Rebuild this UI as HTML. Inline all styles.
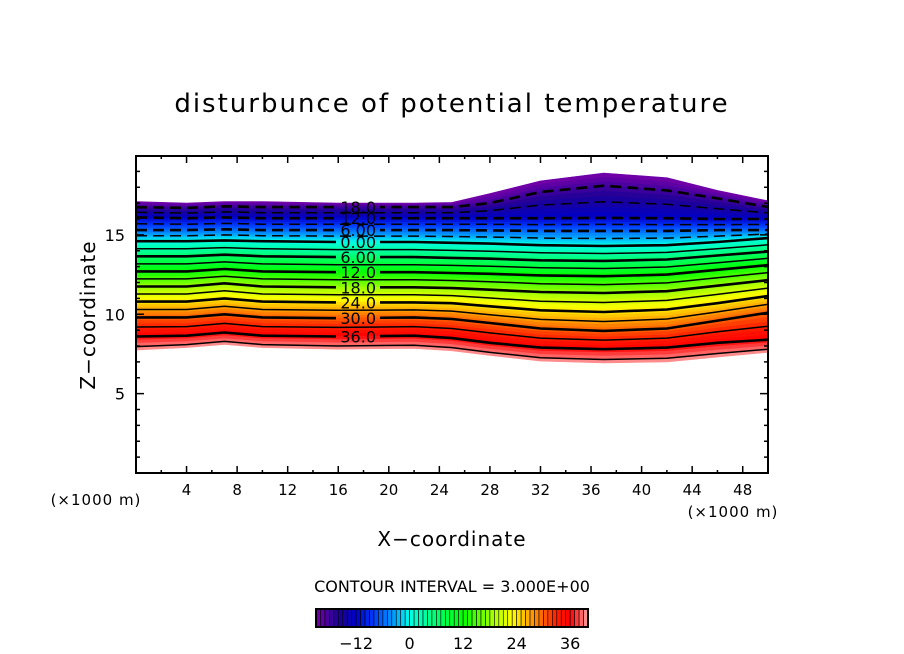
<!DOCTYPE html>
<html><head><meta charset="utf-8"><style>
html,body{margin:0;padding:0;background:#fff;}
svg{display:block;font-family:"DejaVu Sans","Liberation Sans",sans-serif;}
</style></head><body>
<svg id="chart" width="904" height="654" viewBox="0 0 904 654" xmlns="http://www.w3.org/2000/svg">
<defs>
<mask id="labmask" maskUnits="userSpaceOnUse" x="0" y="0" width="904" height="654">
<rect x="0" y="0" width="904" height="654" fill="#fff"/>
<rect x="336" y="195" width="44" height="150" fill="#000"/>
</mask>
</defs>
<text x="452" y="112" font-size="26" text-anchor="middle" letter-spacing="2">disturbunce of potential temperature</text>
<g id="field"></g>
<g id="axes"></g>
<text transform="translate(95,315) rotate(-90)" font-size="20" text-anchor="middle" letter-spacing="1">Z−coordinate</text>
<text x="452" y="546" font-size="20" text-anchor="middle" letter-spacing="1">X−coordinate</text>
<text x="96" y="505" font-size="15" text-anchor="middle" letter-spacing="1">(×1000 m)</text>
<text x="733" y="517" font-size="15" text-anchor="middle" letter-spacing="1">(×1000 m)</text>
<text x="452" y="592" font-size="16" text-anchor="middle">CONTOUR INTERVAL = 3.000E+00</text>
<g id="cbar"></g>
</svg>
<script>
const xs = [0, 4, 7, 10, 16, 22, 25, 28, 32, 37, 42, 46, 50];
const levelValues = [-21, -18, -12, -6, 0, 6, 12, 18, 24, 30, 36, 40];
const hTop = [17.1,17.0,17.1,17.1,17.0,17.0,17.05,17.6,18.4,18.9,18.6,17.8,17.15];
const hM18 = [16.75,16.7,16.8,16.75,16.75,16.75,16.75,17.0,17.7,18.1,17.8,17.3,16.76];
const hM12 = [16.1,16.05,16.1,16.05,16.05,16.05,16.05,16.05,16.05,16.07,16.05,16.0,16.0];
const hM6 = [15.3,15.3,15.35,15.3,15.3,15.3,15.3,15.28,15.25,15.25,15.25,15.3,15.31];
const h0 = [14.6,14.6,14.65,14.6,14.55,14.55,14.5,14.45,14.35,14.3,14.35,14.55,14.8];
const h6 = [13.65,13.65,13.75,13.65,13.6,13.6,13.55,13.5,13.4,13.36,13.45,13.7,13.95];
const h12 = [12.7,12.7,12.85,12.7,12.65,12.65,12.6,12.55,12.45,12.4,12.5,12.8,13.1];
const h18 = [11.75,11.75,11.95,11.75,11.7,11.7,11.65,11.55,11.4,11.34,11.45,11.8,12.15];
const h24 = [10.8,10.8,11.0,10.8,10.75,10.75,10.7,10.5,10.25,10.14,10.3,10.7,11.15];
const h30 = [9.8,9.8,10.0,9.8,9.75,9.8,9.7,9.45,9.1,8.95,9.1,9.6,10.1];
const h36 = [8.6,8.65,8.85,8.65,8.6,8.65,8.5,8.2,7.9,7.8,7.9,8.2,8.4];
const hBot = [7.75,7.9,8.1,7.9,7.8,7.85,7.7,7.4,7.05,6.93,7.0,7.3,7.6];
const xTicks = [4,8,12,16,20,24,28,32,36,40,44,48];
const yTicks = [5,10,15];
const cbarTicks = [-12,0,12,24,36];
const labelVals = [-18,-12,-6,0,6,12,18,24,30,36];
const labelTexts = ["18.0","12.0","6.00","0.00","6.00","12.0","18.0","24.0","30.0","36.0"];

const NS="http://www.w3.org/2000/svg";
const PL=136,PR=768,PT=156,PB=473;
const sx=x=>PL+(x-0)/50*(PR-PL);
const sy=z=>PB-(z-0)/19.97*(PB-PT);
const levelH=[hTop,hM18,hM12,hM6,h0,h6,h12,h18,h24,h30,h36,hBot];
function heightAt(v,i){
  for(let k=0;k<levelValues.length-1;k++){
    const a=levelValues[k],b=levelValues[k+1];
    if(v>=a&&v<=b){const t=(v-a)/(b-a);return levelH[k][i]+(levelH[k+1][i]-levelH[k][i])*t;}
  }
  return v<levelValues[0]?levelH[0][i]:levelH[levelH.length-1][i];
}
const stops=[[-21,[120,0,170]],[-16,[30,0,150]],[-12,[0,0,200]],[-8,[0,60,255]],[-3,[0,170,255]],[0,[0,255,230]],[6,[0,255,110]],[12,[0,255,0]],[18,[150,255,0]],[23,[255,255,0]],[28,[255,140,0]],[33,[255,30,0]],[36,[255,0,0]],[40,[255,160,160]]];
function color(v){
  if(v<=stops[0][0])return `rgb(${stops[0][1]})`;
  for(let k=0;k<stops.length-1;k++){const[a,ca]=stops[k],[b,cb]=stops[k+1];
    if(v<=b){const t=(v-a)/(b-a);return `rgb(${ca.map((c,j)=>Math.round(c+(cb[j]-c)*t)).join(',')})`;}}
  return `rgb(${stops[stops.length-1][1]})`;
}
function el(tag,attrs,parent){const e=document.createElementNS(NS,tag);for(const k in attrs)e.setAttribute(k,attrs[k]);parent.appendChild(e);return e;}
const field=document.getElementById('field');
function linePts(v){return xs.map((x,i)=>`${sx(x).toFixed(1)},${sy(heightAt(v,i)).toFixed(1)}`);}
for(let v=-21;v<40;v+=1){
  const up=linePts(v), dn=linePts(v+1).reverse();
  const p=el('polygon',{points:up.concat(dn).join(' '),fill:color(v+0.5),stroke:color(v+0.5),'stroke-width':0.6},field);
  
  
}
for(let v=-18;v<=39;v+=3){
  const neg=v<0, thick=(v%6===0);
  const a={points:linePts(v).join(' '),fill:'none',stroke:'#000','stroke-width':thick?2.6:1.5};
  if(neg)a['stroke-dasharray']='11,6';
  if(labelVals.includes(v))a.mask='url(#labmask)';
  const l=el('polyline',a,field);
  
  
}
labelVals.forEach((v,k)=>{
  const i=4;const y=sy(heightAt(v,i));const x=sx(17.5)+1;
  const t=el('text',{x:x,y:y+6,'font-size':16,'text-anchor':'middle',fill:'#000'},field);
  t.textContent=labelTexts[k];
  
  
});
const axes=document.getElementById('axes');
const fr=el('rect',{x:PL,y:PT,width:PR-PL,height:PB-PT,fill:'none',stroke:'#000','stroke-width':2},axes);


for(let x=2;x<50;x+=2){
  const maj=x%4===0,len=maj?7:3;
  const t1=el('line',{x1:sx(x),x2:sx(x),y1:PB,y2:PB-len,stroke:'#000','stroke-width':1.5},axes);
  
  
  const t2=el('line',{x1:sx(x),x2:sx(x),y1:PT,y2:PT+len,stroke:'#000','stroke-width':1.5},axes);
  
  
}
xTicks.forEach(x=>{const t=el('text',{x:sx(x),y:495,'font-size':15,'text-anchor':'middle'},axes);t.textContent=x;
  
  });
for(let z=1;z<20;z++){
  const maj=z%5===0,len=maj?8:4;
  const t1=el('line',{x1:PL,x2:PL+len,y1:sy(z),y2:sy(z),stroke:'#000','stroke-width':1.5},axes);
  
  
  const t2=el('line',{x1:PR,x2:PR-len,y1:sy(z),y2:sy(z),stroke:'#000','stroke-width':1.5},axes);
  
  
}
yTicks.forEach(z=>{const t=el('text',{x:125,y:sy(z)+6,'font-size':16,'text-anchor':'end'},axes);t.textContent=z;
  
  });
const cb=document.getElementById('cbar');
const CL=316,CR=588,CT=609,CBt=627,vmin=-21,vmax=40;
const cx=v=>CL+(v-vmin)/(vmax-vmin)*(CR-CL);
for(let v=vmin;v<vmax;v++){
  const r=el('rect',{x:cx(v),y:CT,width:cx(v+1)-cx(v),height:CBt-CT,fill:color(v+0.5),stroke:'#000','stroke-width':0.6},cb);
  
  
}
const cf=el('rect',{x:CL,y:CT,width:CR-CL,height:CBt-CT,fill:'none',stroke:'#000','stroke-width':2},cb);


cbarTicks.forEach(v=>{const t=el('text',{x:cx(v),y:649,'font-size':16,'text-anchor':'middle'},cb);t.textContent=v<0?'−'+(-v):v;
  
  });
</script>
</body></html>
